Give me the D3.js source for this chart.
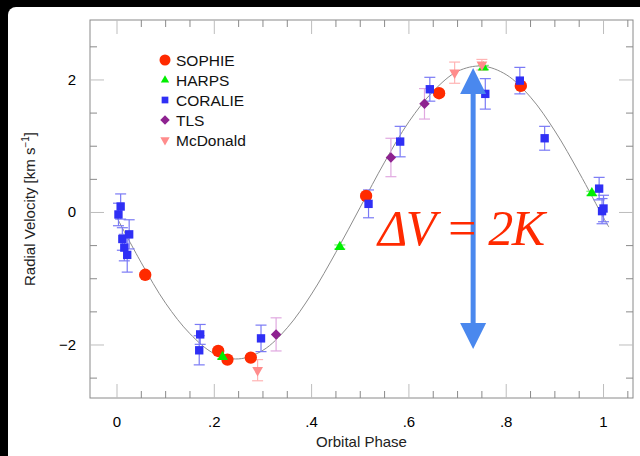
<!DOCTYPE html>
<html>
<head>
<meta charset="utf-8">
<script src="https://cdn.jsdelivr.net/npm/d3@7"></script>
<style>
    body { margin: 0; background: #000; }
    svg { display: block; }
    .sans { font-family: "Liberation Sans", Arial, sans-serif; }
</style>
</head>
<body>
<div id="chart"></div>
<script>
// [phase, rv (km/s), error]
const sophie = [
    [0.058, -0.94, 0.03], [0.208, -2.09, 0.03], [0.227, -2.22, 0.03], [0.275, -2.19, 0.03],
    [0.512, 0.25, 0.03], [0.662, 1.80, 0.03], [0.830, 1.91, 0.03]
];
const harps = [
    [0.217, -2.18, 0.03], [0.458, -0.52, 0.03], [0.753, 2.19, 0.03], [0.976, 0.29, 0.03]
];
const coralie = [
    [0.003, -0.03, 0.17], [0.0075, 0.09, 0.19], [0.011, -0.40, 0.17], [0.015, -0.53, 0.20],
    [0.021, -0.64, 0.26], [0.025, -0.33, 0.22], [0.169, -2.08, 0.22], [0.171, -1.84, 0.15],
    [0.296, -1.90, 0.20], [0.517, 0.13, 0.21], [0.582, 1.07, 0.23], [0.643, 1.86, 0.18],
    [0.757, 1.79, 0.23], [0.828, 1.99, 0.20], [0.879, 1.12, 0.18], [0.991, 0.36, 0.17],
    [0.997, 0.02, 0.19], [1.000, 0.06, 0.20]
];
const tls = [
    [0.327, -1.84, 0.25], [0.563, 0.83, 0.29], [0.632, 1.64, 0.23]
];
const mcdonald = [
    [0.289, -2.38, 0.16], [0.694, 2.11, 0.16], [0.750, 2.23, 0.08]
];

// orbit fit
const modelPhase = [0, 0.05, 0.1, 0.15, 0.2, 0.25, 0.3, 0.35, 0.4, 0.45, 0.5,
    0.55, 0.6, 0.65, 0.7, 0.75, 0.8, 0.85, 0.9, 0.95, 1.0, 1.011];
const modelRV = [-0.08, -0.76, -1.37, -1.83, -2.13, -2.21, -2.08, -1.74, -1.23, -0.60, 0.08,
    0.76, 1.37, 1.83, 2.13, 2.21, 2.08, 1.74, 1.23, 0.60, -0.08, -0.22];

const xTicks = [0, 0.2, 0.4, 0.6, 0.8, 1];
const xTickLabels = ["0", ".2", ".4", ".6", ".8", "1"];
const yTicks = [-2, 0, 2];
const yTickLabels = ["\u22122", "0", "2"];

// arrow: phase, from rv, to rv
const arrowPhase = 0.732;
const arrowTop = 2.18;
const arrowBottom = -2.06;

const series = [
    { name: "SOPHIE", data: sophie, color: "#ff2a00", err: "#ff8a70", shape: "circle" },
    { name: "HARPS", data: harps, color: "#00ee00", err: "#70ee70", shape: "triangle" },
    { name: "CORALIE", data: coralie, color: "#2f2ff5", err: "#7a7af5", shape: "square" },
    { name: "TLS", data: tls, color: "#8e2290", err: "#e0a8e0", shape: "diamond" },
    { name: "McDonald", data: mcdonald, color: "#ff8c8c", err: "#ffb4b4", shape: "down" }
];

const width = 640, height = 456;
const plot = { left: 90, right: 633, top: 20, bottom: 398 };

const svg = d3.select("#chart").append("svg")
    .attr("width", width)
    .attr("height", height)
    .attr("class", "sans");

// white card on black
svg.append("rect")
    .attr("x", 8).attr("y", 7)
    .attr("width", width).attr("height", height)
    .attr("rx", 8)
    .attr("fill", "#fff");

const x = d3.scaleLinear().domain([-0.0555, 1.0606]).range([plot.left, plot.right]);
const y = d3.scaleLinear().domain([-2.8, 2.905]).range([plot.bottom, plot.top]);

// frame
svg.append("rect")
    .attr("x", plot.left).attr("y", plot.top)
    .attr("width", plot.right - plot.left).attr("height", plot.bottom - plot.top)
    .attr("fill", "none")
    .attr("stroke", "#8a8a8a")
    .attr("stroke-width", 1);

// ticks inward on all four sides
const xMinor = d3.range(0, 1.06, 0.05).map(d => +d.toFixed(2));
const yMinor = d3.range(-2.5, 2.6, 0.5).map(d => +d.toFixed(1));
const tickG = svg.append("g").attr("stroke-width", 1);

xMinor.forEach(v => {
    const major = xTicks.some(t => Math.abs(t - v) < 1e-6);
    const len = major ? 14 : 7;
    const col = major ? "#bdbdbd" : "#8a8a8a";
    tickG.append("line").attr("x1", x(v)).attr("x2", x(v))
        .attr("y1", plot.bottom).attr("y2", plot.bottom - len).attr("stroke", col);
    tickG.append("line").attr("x1", x(v)).attr("x2", x(v))
        .attr("y1", plot.top).attr("y2", plot.top + len).attr("stroke", col);
});
yMinor.forEach(v => {
    const major = yTicks.some(t => Math.abs(t - v) < 1e-6);
    const len = major ? 14 : 7;
    const col = major ? "#bdbdbd" : "#8a8a8a";
    tickG.append("line").attr("y1", y(v)).attr("y2", y(v))
        .attr("x1", plot.left).attr("x2", plot.left + len).attr("stroke", col);
    tickG.append("line").attr("y1", y(v)).attr("y2", y(v))
        .attr("x1", plot.right).attr("x2", plot.right - len).attr("stroke", col);
});

// tick labels
svg.append("g").selectAll("text")
    .data(xTicks)
    .enter().append("text")
    .attr("x", d => x(d))
    .attr("y", 427)
    .attr("text-anchor", "middle")
    .attr("font-size", "15px")
    .text((d, i) => xTickLabels[i]);

svg.append("g").selectAll("text")
    .data(yTicks)
    .enter().append("text")
    .attr("x", 76)
    .attr("y", d => y(d) + 5)
    .attr("text-anchor", "end")
    .attr("font-size", "15px")
    .text((d, i) => yTickLabels[i]);

// axis titles
svg.append("text")
    .attr("x", (plot.left + plot.right) / 2)
    .attr("y", 447)
    .attr("text-anchor", "middle")
    .attr("font-size", "15px")
    .attr("fill", "#222")
    .text("Orbital Phase");

const yTitle = svg.append("text")
    .attr("transform", "translate(35," + ((plot.top + plot.bottom) / 2) + ") rotate(-90)")
    .attr("text-anchor", "middle")
    .attr("font-size", "15px")
    .attr("fill", "#222");
yTitle.append("tspan").text("Radial Velocity [km s");
yTitle.append("tspan").attr("dy", -6).attr("font-size", "10px").text("\u22121");
yTitle.append("tspan").attr("dy", 6).text("]");

// model curve
const line = d3.line()
    .x(d => x(d[0]))
    .y(d => y(d[1]))
    .curve(d3.curveCatmullRom);

svg.append("path")
    .datum(modelPhase.map((p, i) => [p, modelRV[i]]))
    .attr("d", line)
    .attr("fill", "none")
    .attr("stroke", "#8c8c8c")
    .attr("stroke-width", 1);

function symbolPath(shape, size) {
    if (shape === "circle") return d3.symbol(d3.symbolCircle, size)();
    if (shape === "square") return d3.symbol(d3.symbolSquare, size)();
    if (shape === "diamond") return d3.symbol(d3.symbolSquare, size)();
    return d3.symbol(d3.symbolTriangle, size)();
}
function symbolRotate(shape) {
    if (shape === "diamond") return 45;
    if (shape === "down") return 180;
    return 0;
}
const markSize = { circle: 120, square: 70, triangle: 50, diamond: 55, down: 50 };

// error bars then markers
series.forEach(s => {
    const g = svg.append("g");
    const eb = g.selectAll("g.err")
        .data(s.data)
        .enter().append("g")
        .attr("stroke", s.err)
        .attr("stroke-width", 1.2);
    eb.append("line")
        .attr("x1", d => x(d[0])).attr("x2", d => x(d[0]))
        .attr("y1", d => y(d[1] - d[2])).attr("y2", d => y(d[1] + d[2]));
    eb.append("line")
        .attr("x1", d => x(d[0]) - 5.5).attr("x2", d => x(d[0]) + 5.5)
        .attr("y1", d => y(d[1] + d[2])).attr("y2", d => y(d[1] + d[2]));
    eb.append("line")
        .attr("x1", d => x(d[0]) - 5.5).attr("x2", d => x(d[0]) + 5.5)
        .attr("y1", d => y(d[1] - d[2])).attr("y2", d => y(d[1] - d[2]));
});
series.forEach(s => {
    svg.append("g").selectAll("path")
        .data(s.data)
        .enter().append("path")
        .attr("d", symbolPath(s.shape, markSize[s.shape]))
        .attr("transform", d => "translate(" + x(d[0]) + "," + y(d[1]) + ") rotate(" + symbolRotate(s.shape) + ")")
        .attr("fill", s.color);
});

// legend
const legendSize = { circle: 95, square: 45, triangle: 30, diamond: 45, down: 38 };
const legend = svg.append("g");
series.forEach((s, i) => {
    const ly = 60 + i * 20;
    legend.append("path")
        .attr("d", symbolPath(s.shape, legendSize[s.shape]))
        .attr("transform", "translate(165," + ly + ") rotate(" + symbolRotate(s.shape) + ")")
        .attr("fill", s.color);
    legend.append("text")
        .attr("x", 176)
        .attr("y", ly + 5.5)
        .attr("font-size", "15.5px")
        .attr("fill", "#111")
        .text(s.name);
});

// double-headed arrow
const arrowColor = "#4a88ee";
const ax = x(arrowPhase);
const headLen = 26, headHalf = 13;
svg.append("line")
    .attr("x1", ax).attr("x2", ax)
    .attr("y1", y(arrowTop) + headLen - 2).attr("y2", y(arrowBottom) - headLen + 2)
    .attr("stroke", arrowColor)
    .attr("stroke-width", 5);
svg.append("path")
    .attr("d", d3.line()([[ax, y(arrowTop)], [ax - headHalf, y(arrowTop) + headLen], [ax + headHalf, y(arrowTop) + headLen]]) + "Z")
    .attr("fill", arrowColor);
svg.append("path")
    .attr("d", d3.line()([[ax, y(arrowBottom)], [ax - headHalf, y(arrowBottom) - headLen], [ax + headHalf, y(arrowBottom) - headLen]]) + "Z")
    .attr("fill", arrowColor);

// annotation
svg.append("text")
    .attr("x", 378)
    .attr("y", 245)
    .style("font-family", "'Liberation Serif', 'Times New Roman', serif")
    .style("font-style", "italic")
    .style("font-size", "50px")
    .attr("fill", "#ff2a00")
    .attr("textLength", 167)
    .attr("lengthAdjust", "spacing")
    .text("\u0394V = 2K");
</script>
</body>
</html>
